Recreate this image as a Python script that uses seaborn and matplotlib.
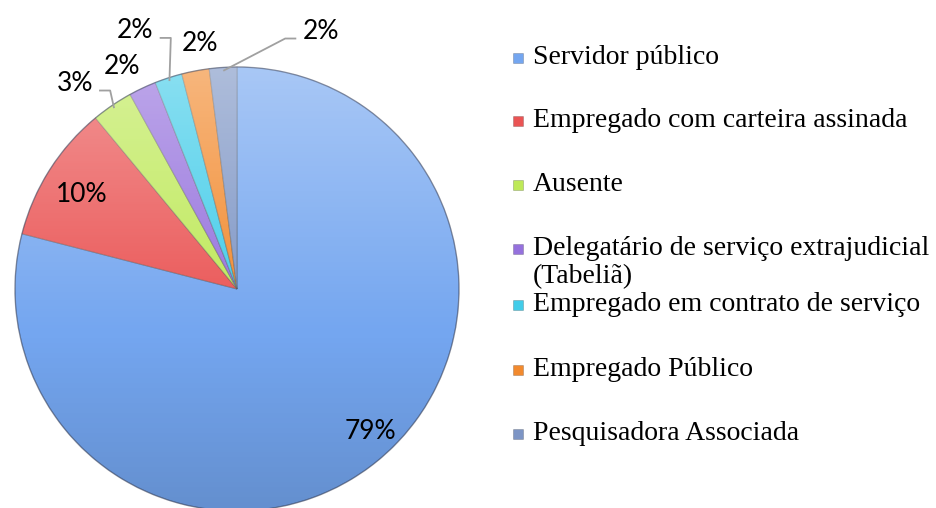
import numpy as np
import matplotlib
matplotlib.use("Agg")
import matplotlib.pyplot as plt
import seaborn as sns
from matplotlib.patches import Circle, Rectangle

# ---------------- data ----------------
categories = [
    "Servidor público",
    "Empregado com carteira assinada",
    "Ausente",
    "Delegatário de serviço extrajudicial\n(Tabeliã)",
    "Empregado em contrato de serviço",
    "Empregado Público",
    "Pesquisadora Associada",
]
shares = [79, 10, 3, 2, 2, 2, 2]
pct_labels = ["79%", "10%", "3%", "2%", "2%", "2%", "2%"]

# ---------------- style ----------------
sns.set_theme(style="white")
plt.rcParams['font.family'] = ['Lato', 'DejaVu Sans']

base_colors = ["#74A6F0", "#EA5454", "#BEE958", "#9571DD", "#42CCE9", "#F28A2E", "#7D95C5"]
palette = sns.color_palette(base_colors)

W, H = 936, 508
fig = plt.figure(figsize=(W / 100, H / 100), dpi=100)
cx, cy, R = 237, 289, 222          # pie centre / radius in pixels
ax = fig.add_axes([0, 0, 1, 1])

wedges, _ = ax.pie(shares, colors=palette, startangle=90, counterclock=False,
                   radius=1,
                   wedgeprops=dict(edgecolor=(0.25, 0.25, 0.25, 0.35), linewidth=0.8))
ax.set_aspect('equal')
ax.axis('off')

# lighting gradient clipped to the pie
n = 400
ys = np.linspace(1, -1, n)
white_a = 0.38 * np.clip((ys + 0.2) / 1.2, 0, 1)
black_a = 0.14 * np.clip((-0.2 - ys) / 0.8, 0, 1)
clip = Circle((0, 0), 1, transform=ax.transData)
for rgb, alpha in ((1.0, white_a), (0.0, black_a)):
    img = np.zeros((n, 1, 4))
    img[..., :3] = rgb
    img[:, 0, 3] = alpha
    im = ax.imshow(img, extent=(-1, 1, -1, 1), aspect='auto', zorder=2,
                   interpolation='bilinear')
    im.set_clip_path(clip)
ax.add_patch(Circle((0, 0), 1, fill=False, edgecolor=(0.15, 0.2, 0.35, 0.35),
                    linewidth=1.0, zorder=3))
ax.set_xlim(-cx / R, (W - cx) / R)
ax.set_ylim((cy - H) / R, cy / R)

# ---------------- percentage labels ----------------
label_polar = [(0.88, -47.0), (0.82, 148.8), (1.18, 128.3), (1.13, 117.4),
               (1.25, 111.5), (1.12, 98.6), (1.22, 72.0)]
leader = {2: -1, 4: -1, 6: 1}      # index -> side of label relative to line
for i, (w, txt) in enumerate(zip(wedges, pct_labels)):
    r, a = label_polar[i]
    lx, ly = r * np.cos(np.radians(a)), r * np.sin(np.radians(a))
    ax.text(lx, ly, txt, ha='center', va='center', fontsize=19,
            color='black', zorder=5)
    if i in leader:
        mid = np.radians((w.theta1 + w.theta2) / 2)
        px, py = 0.985 * np.cos(mid), 0.985 * np.sin(mid)
        side = leader[i]
        sx = lx - side * 0.11
        ex = sx - side * 0.05
        yy = ly - 0.032
        ax.plot([sx, ex, px], [yy, yy, py], color='#A0A0A0', lw=1.3,
                zorder=4, solid_capstyle='butt')

# ---------------- legend (manual) ----------------
legend_font = ['Liberation Serif', 'DejaVu Serif']
renderer = fig.canvas.get_renderer()


def line_width(s, fs=20):
    t = fig.text(0, 0, s, fontsize=fs, family=legend_font)
    wpx = t.get_window_extent(renderer).width
    t.remove()
    return wpx


leg_fs = min(20 * 385.0 / line_width("Empregado com carteira assinada"),
             20 * 396.0 / line_width("Delegatário de serviço extrajudicial"))

legend_baselines = [64, 127, 191, 255, 311, 376, 440]
line_pitch = 28
for col, lab, yb in zip(palette, categories, legend_baselines):
    fig.patches.append(Rectangle((513 / W, 1 - (yb - 1) / H), 10 / W, 10 / H,
                                 transform=fig.transFigure,
                                 facecolor=col, edgecolor=(0, 0, 0, 0.25),
                                 linewidth=0.5))
    for k, line in enumerate(lab.split("\n")):
        fig.text(533 / W, 1 - (yb + k * line_pitch) / H, line, ha='left',
                 va='baseline', fontsize=leg_fs, family=legend_font,
                 color='black')

fig.savefig("out.png", dpi=100)
